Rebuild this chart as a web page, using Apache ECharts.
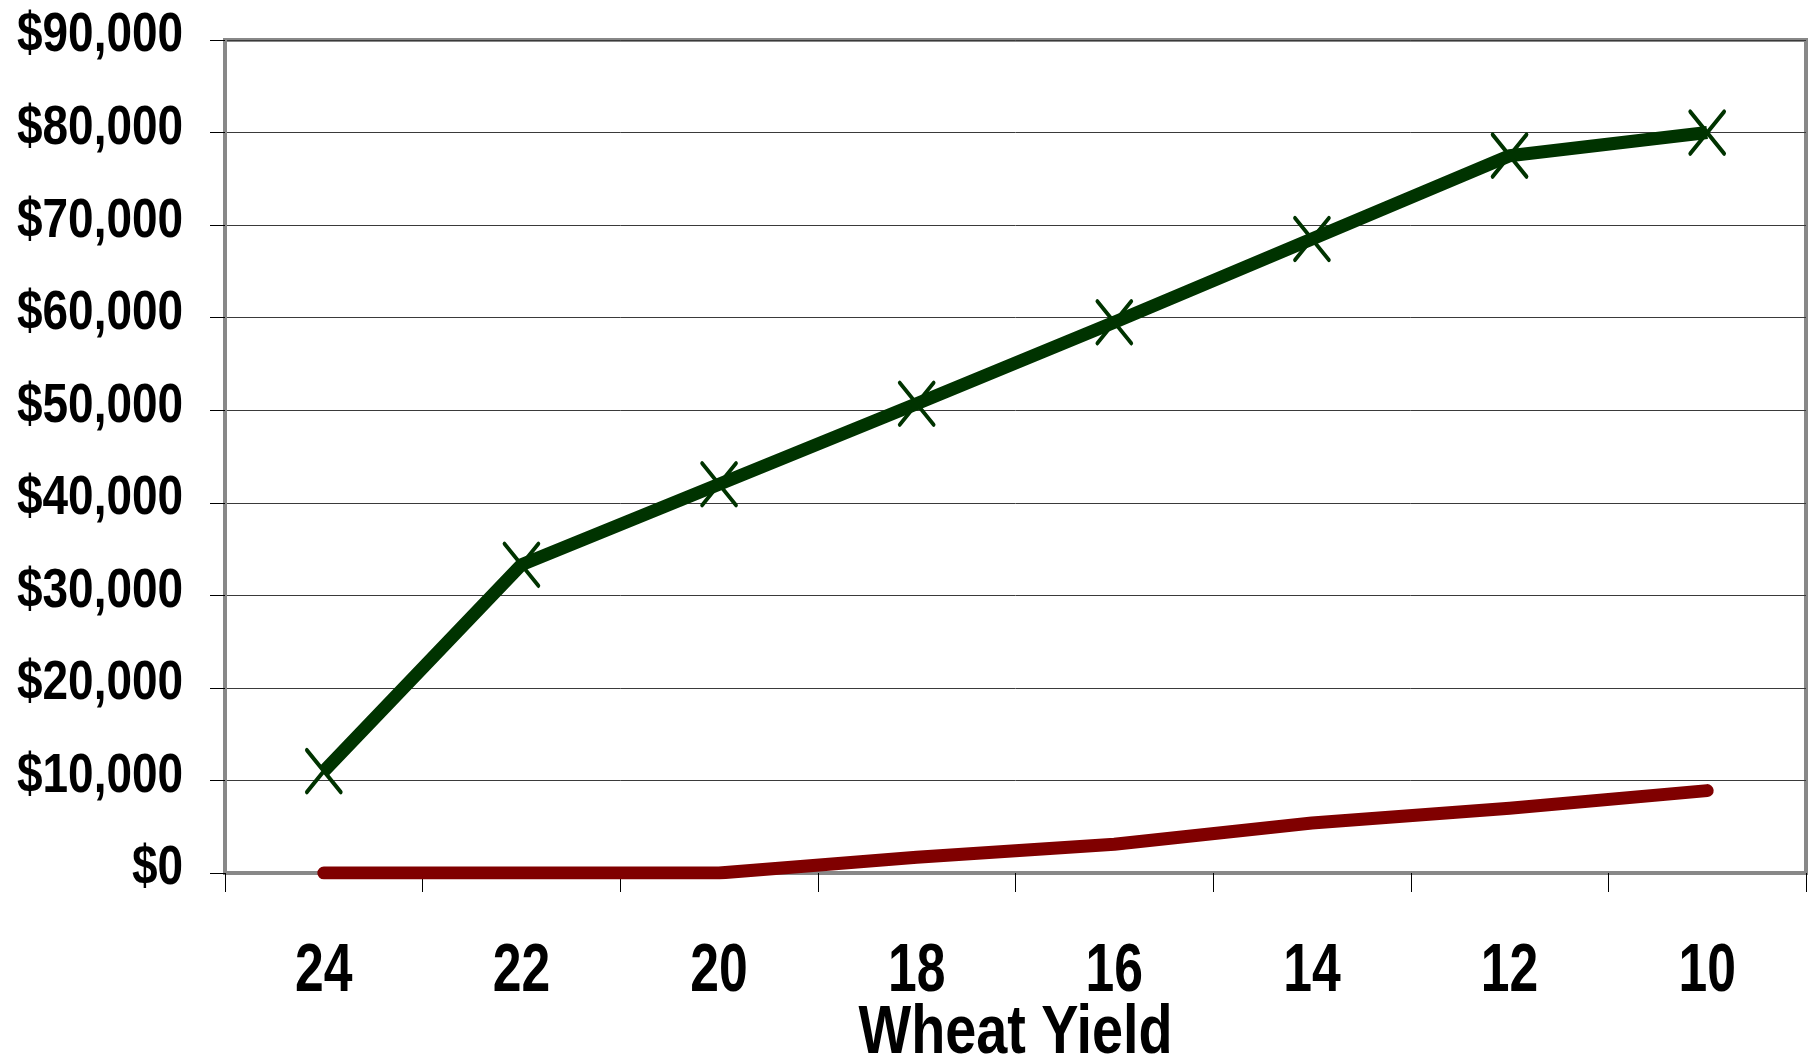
<!DOCTYPE html>
<html>
<head>
<meta charset="utf-8">
<title>Wheat Yield</title>
<script src="https://cdn.jsdelivr.net/npm/echarts@6/dist/echarts.min.js"></script>
<style>
  html, body { margin: 0; padding: 0; background: #ffffff; }
  #chart { width: 1814px; height: 1062px; }
</style>
</head>
<body>
<div id="chart"></div>
<script>
// Yield levels (bushels) along the horizontal axis
const categories = ['24', '22', '20', '18', '16', '14', '12', '10'];

// Dollar values for each yield level
const upperValues = [11000, 33300, 42000, 50700, 59500, 68500, 77500, 80000];
const lowerValues = [0, 0, 0, 1700, 3100, 5400, 7000, 8900];

// Value axis ticks
const yMin = 0;
const yMax = 90000;
const yStep = 10000;
const yTicks = [0, 10000, 20000, 30000, 40000, 50000, 60000, 70000, 80000, 90000];

const axisTitle = 'Wheat Yield';

// Bold sans squeezed horizontally to get a narrow face
const FONT = "'Liberation Sans', Arial, sans-serif";

function dollars(v) {
  return '$' + v.toString().replace(/\B(?=(\d{3})+(?!\d))/g, ',');
}

const chart = echarts.init(document.getElementById('chart'), null, { renderer: 'canvas' });

chart.setOption({
  animation: false,
  backgroundColor: '#ffffff',
  grid: {
    left: 225,
    right: 8,
    top: 40,
    bottom: 189,
    containLabel: false,
    outerBoundsMode: 'none',
    show: true,
    borderColor: '#888888',
    borderWidth: 4,
    backgroundColor: 'transparent'
  },
  xAxis: {
    type: 'category',
    data: categories,
    boundaryGap: true,
    axisLine: { show: true, lineStyle: { color: '#888888', width: 3 } },
    axisTick: {
      show: true,
      alignWithLabel: false,
      inside: false,
      length: 19,
      lineStyle: { color: '#000000', width: 1 }
    },
    axisLabel: { show: false },
    splitLine: { show: false }
  },
  yAxis: {
    type: 'value',
    min: yMin,
    max: yMax,
    interval: yStep,
    axisLine: { show: true, lineStyle: { color: '#888888', width: 3 } },
    axisTick: {
      show: true,
      inside: false,
      length: 15,
      lineStyle: { color: '#000000', width: 1 }
    },
    axisLabel: { show: false },
    splitLine: { show: true, lineStyle: { color: '#3a3a3a', width: 1 } }
  },
  series: [
    {
      name: 'Series 2',
      type: 'line',
      data: lowerValues,
      symbol: 'none',
      z: 3,
      lineStyle: { color: '#800000', width: 13, cap: 'round', join: 'round' },
      itemStyle: { color: '#800000' }
    },
    {
      name: 'Series 1',
      type: 'line',
      data: upperValues,
      symbol: 'path://M0 0L34 42M34 0L0 42',
      symbolSize: [34, 42],
      showAllSymbol: true,
      z: 4,
      lineStyle: { color: '#003300', width: 13, cap: 'butt', join: 'round' },
      itemStyle: {
        color: 'transparent',
        borderColor: '#003300',
        borderWidth: 4,
        borderCap: 'round'
      }
    }
  ]
});

// Axis labels and title, placed from the axes' own pixel mapping
function narrowText(x, y, text, size, squeeze, align) {
  return {
    type: 'text',
    x: x,
    y: y,
    scaleX: squeeze,
    scaleY: 1,
    silent: true,
    z: 10,
    style: {
      text: text,
      fill: '#000000',
      font: 'bold ' + size + 'px ' + FONT,
      align: align,
      verticalAlign: 'middle'
    }
  };
}

const firstX = chart.convertToPixel({ xAxisIndex: 0 }, 0);
const bandWidth = chart.convertToPixel({ xAxisIndex: 0 }, 1) - firstX;
const xLeft = firstX - bandWidth / 2;
const xRight = chart.convertToPixel({ xAxisIndex: 0 }, categories.length - 1) + bandWidth / 2;
const zeroY = chart.convertToPixel({ yAxisIndex: 0 }, 0);

const labels = [];
yTicks.forEach(function (v) {
  const py = chart.convertToPixel({ yAxisIndex: 0 }, v);
  labels.push(narrowText(xLeft - 42, py - 4, dollars(v), 56, 0.82, 'right'));
});

categories.forEach(function (c, i) {
  const px = chart.convertToPixel({ xAxisIndex: 0 }, i);
  labels.push(narrowText(px, zeroY + 99, c, 68, 0.76, 'center'));
});

labels.push(narrowText((xLeft + xRight) / 2, zeroY + 161, axisTitle, 68, 0.82, 'center'));

chart.setOption({ graphic: labels });
</script>
</body>
</html>
